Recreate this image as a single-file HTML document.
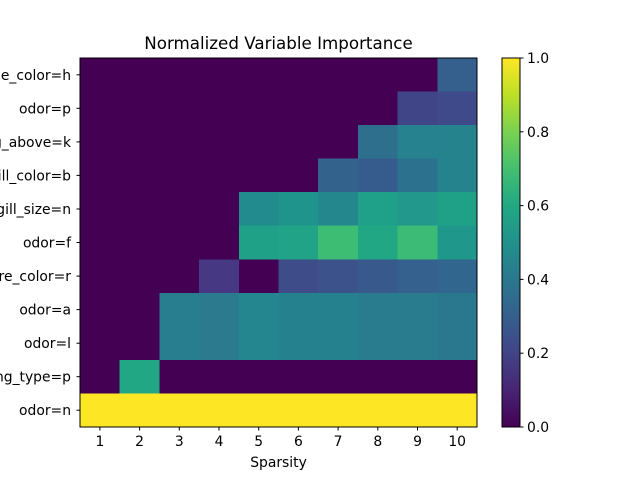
<!DOCTYPE html>
<html><head><style>body{margin:0;background:#fff}svg{display:block}text{font-family:"DejaVu Sans","Liberation Sans",sans-serif;fill:#000}</style></head><body>
<svg width="640" height="480" xmlns="http://www.w3.org/2000/svg">
<defs><linearGradient id="v" x1="0" y1="1" x2="0" y2="0">
<stop offset="0" stop-color="#440154"/><stop offset="0.1" stop-color="#482475"/><stop offset="0.2" stop-color="#414487"/><stop offset="0.3" stop-color="#355f8d"/><stop offset="0.4" stop-color="#2a788e"/><stop offset="0.5" stop-color="#21918c"/><stop offset="0.6" stop-color="#22a884"/><stop offset="0.7" stop-color="#44bf70"/><stop offset="0.8" stop-color="#7ad151"/><stop offset="0.9" stop-color="#bddf26"/><stop offset="1" stop-color="#fde725"/></linearGradient></defs>
<text x="278.5" y="49" font-size="16.7" text-anchor="middle">Normalized Variable Importance</text>
<g shape-rendering="crispEdges">
<rect x="80" y="58" width="397" height="369" fill="#440154"/>
<rect x="437.3" y="58" width="39.7" height="33.6" fill="#35608d"/>
<rect x="397.6" y="91.5" width="39.7" height="33.6" fill="#404588"/>
<rect x="437.3" y="91.5" width="39.7" height="33.6" fill="#3f4a8a"/>
<rect x="357.9" y="125.1" width="39.7" height="33.6" fill="#2e6f8e"/>
<rect x="397.6" y="125.1" width="39.7" height="33.6" fill="#26828e"/>
<rect x="437.3" y="125.1" width="39.7" height="33.6" fill="#25838e"/>
<rect x="318.2" y="158.6" width="39.7" height="33.6" fill="#33638d"/>
<rect x="357.9" y="158.6" width="39.7" height="33.6" fill="#365c8d"/>
<rect x="397.6" y="158.6" width="39.7" height="33.6" fill="#2c728e"/>
<rect x="437.3" y="158.6" width="39.7" height="33.6" fill="#25838e"/>
<rect x="238.8" y="192.2" width="39.7" height="33.6" fill="#228b8d"/>
<rect x="278.5" y="192.2" width="39.7" height="33.6" fill="#1f948c"/>
<rect x="318.2" y="192.2" width="39.7" height="33.6" fill="#24878e"/>
<rect x="357.9" y="192.2" width="39.7" height="33.6" fill="#1fa088"/>
<rect x="397.6" y="192.2" width="39.7" height="33.6" fill="#21988b"/>
<rect x="437.3" y="192.2" width="39.7" height="33.6" fill="#1fa187"/>
<rect x="238.8" y="225.7" width="39.7" height="33.6" fill="#1fa187"/>
<rect x="278.5" y="225.7" width="39.7" height="33.6" fill="#20a386"/>
<rect x="318.2" y="225.7" width="39.7" height="33.6" fill="#3dbc74"/>
<rect x="357.9" y="225.7" width="39.7" height="33.6" fill="#22a785"/>
<rect x="397.6" y="225.7" width="39.7" height="33.6" fill="#3bbb75"/>
<rect x="437.3" y="225.7" width="39.7" height="33.6" fill="#1f988b"/>
<rect x="199.1" y="259.3" width="39.7" height="33.6" fill="#463883"/>
<rect x="278.5" y="259.3" width="39.7" height="33.6" fill="#3e4c8a"/>
<rect x="318.2" y="259.3" width="39.7" height="33.6" fill="#3b528b"/>
<rect x="357.9" y="259.3" width="39.7" height="33.6" fill="#38598c"/>
<rect x="397.6" y="259.3" width="39.7" height="33.6" fill="#34618d"/>
<rect x="437.3" y="259.3" width="39.7" height="33.6" fill="#31668e"/>
<rect x="159.4" y="292.8" width="39.7" height="67.1" fill="#287d8e"/>
<rect x="199.1" y="292.8" width="39.7" height="67.1" fill="#2b7a8e"/>
<rect x="238.8" y="292.8" width="39.7" height="67.1" fill="#24868e"/>
<rect x="278.5" y="292.8" width="39.7" height="67.1" fill="#26818e"/>
<rect x="318.2" y="292.8" width="39.7" height="67.1" fill="#26818e"/>
<rect x="357.9" y="292.8" width="39.7" height="67.1" fill="#297b8e"/>
<rect x="397.6" y="292.8" width="39.7" height="67.1" fill="#287c8e"/>
<rect x="437.3" y="292.8" width="39.7" height="67.1" fill="#2a788e"/>
<rect x="119.7" y="359.9" width="39.7" height="33.6" fill="#22a785"/>
<rect x="80" y="393.4" width="397" height="33.6" fill="#fde725"/>
</g>
<rect x="80" y="58" width="397" height="369" fill="none" stroke="#000" stroke-width="1"/>
<g stroke="#000" stroke-width="1">
<line x1="76.5" x2="80" y1="74.8" y2="74.8"/><line x1="76.5" x2="80" y1="108.3" y2="108.3"/><line x1="76.5" x2="80" y1="141.9" y2="141.9"/><line x1="76.5" x2="80" y1="175.4" y2="175.4"/><line x1="76.5" x2="80" y1="209" y2="209"/><line x1="76.5" x2="80" y1="242.5" y2="242.5"/><line x1="76.5" x2="80" y1="276.1" y2="276.1"/><line x1="76.5" x2="80" y1="309.6" y2="309.6"/><line x1="76.5" x2="80" y1="343.2" y2="343.2"/><line x1="76.5" x2="80" y1="376.7" y2="376.7"/><line x1="76.5" x2="80" y1="410.2" y2="410.2"/>
<line y1="427" y2="430.5" x1="99.9" x2="99.9"/><line y1="427" y2="430.5" x1="139.6" x2="139.6"/><line y1="427" y2="430.5" x1="179.3" x2="179.3"/><line y1="427" y2="430.5" x1="219" x2="219"/><line y1="427" y2="430.5" x1="258.7" x2="258.7"/><line y1="427" y2="430.5" x1="298.4" x2="298.4"/><line y1="427" y2="430.5" x1="338.1" x2="338.1"/><line y1="427" y2="430.5" x1="377.8" x2="377.8"/><line y1="427" y2="430.5" x1="417.5" x2="417.5"/><line y1="427" y2="430.5" x1="457.2" x2="457.2"/>
</g>
<g font-size="13.9" text-anchor="end">
<text x="71" y="79.8">surface_color=h</text><text x="71" y="113.3">odor=p</text><text x="71" y="146.9">ring_above=k</text><text x="71" y="180.4">gill_color=b</text><text x="71" y="214">gill_size=n</text><text x="71" y="247.5">odor=f</text><text x="71" y="281.1">spore_color=r</text><text x="71" y="314.6">odor=a</text><text x="71" y="348.2">odor=l</text><text x="71" y="381.7">ring_type=p</text><text x="71" y="415.2">odor=n</text>
</g>
<g font-size="13.9" text-anchor="middle">
<text x="99.9" y="446">1</text><text x="139.6" y="446">2</text><text x="179.3" y="446">3</text><text x="219" y="446">4</text><text x="258.7" y="446">5</text><text x="298.4" y="446">6</text><text x="338.1" y="446">7</text><text x="377.8" y="446">8</text><text x="417.5" y="446">9</text><text x="457.2" y="446">10</text>
<text x="278.5" y="467">Sparsity</text>
</g>
<rect x="502" y="58" width="18" height="369" fill="url(#v)" stroke="#000" stroke-width="1"/>
<g stroke="#000"><line x1="520" x2="523.5" y1="427" y2="427"/><line x1="520" x2="523.5" y1="353.2" y2="353.2"/><line x1="520" x2="523.5" y1="279.4" y2="279.4"/><line x1="520" x2="523.5" y1="205.6" y2="205.6"/><line x1="520" x2="523.5" y1="131.8" y2="131.8"/><line x1="520" x2="523.5" y1="58" y2="58"/></g>
<g font-size="13.9"><text x="527" y="432">0.0</text><text x="527" y="358.2">0.2</text><text x="527" y="284.4">0.4</text><text x="527" y="210.6">0.6</text><text x="527" y="136.8">0.8</text><text x="527" y="63">1.0</text></g>
</svg>
</body></html>
